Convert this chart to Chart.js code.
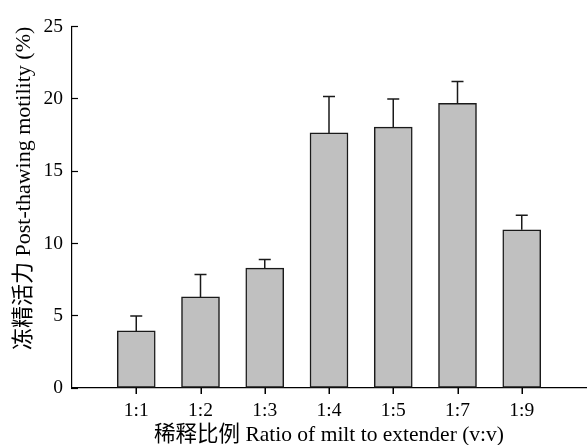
<!DOCTYPE html>
<html><head><meta charset="utf-8">
<script src="https://cdn.jsdelivr.net/npm/chart.js@4"></script>
<style>html,body{margin:0;padding:0;background:#fff}#wrap{width:587px;height:445px}</style>
</head><body><div id="wrap"><canvas id="c" width="587" height="445"></canvas></div>
<script>
const categories = ['1:1', '1:2', '1:3', '1:4', '1:5', '1:7', '1:9'];
const motility = [3.95, 6.3, 8.3, 17.65, 18.05, 19.7, 10.95];
const sd = [1.03, 1.55, 0.6, 2.52, 1.95, 1.5, 1.0];
const yTicks = [0, 5, 10, 15, 20, 25];

const FONT = "'Liberation Serif', 'Times New Roman', 'Noto Sans CJK SC', serif";
const labels = [''].concat(categories, ['']);
const values = [null].concat(motility, [null]);
const errs = [null].concat(sd, [null]);

const marks = {
  id: 'marks',
  afterDraw(chart) {
    const ctx = chart.ctx, meta = chart.getDatasetMeta(0), y = chart.scales.y, x = chart.scales.x;
    ctx.save();
    // x-axis tick marks at each category
    ctx.fillStyle = '#000';
    const y0 = Math.round(y.getPixelForValue(0));
    categories.forEach((c, k) => {
      const px = Math.round(x.getPixelForValue(k + 1));
      ctx.fillRect(px - 0.5, y0, 1.5, 6);
    });
    // error bars (upper only)
    ctx.strokeStyle = '#1a1a1a';
    ctx.lineWidth = 1.5;
    meta.data.forEach((bar, i) => {
      if (values[i] == null) return;
      const top = y.getPixelForValue(values[i] + errs[i]);
      const base = y.getPixelForValue(values[i]);
      ctx.beginPath();
      ctx.moveTo(bar.x, base); ctx.lineTo(bar.x, top);
      ctx.moveTo(bar.x - 6, top); ctx.lineTo(bar.x + 6, top);
      ctx.stroke();
    });
    ctx.restore();
  }
};

new Chart(document.getElementById('c'), {
  type: 'bar',
  data: { labels: labels, datasets: [{ data: values, backgroundColor: '#c0c0c0', borderColor: '#1a1a1a', borderWidth: 1.5, borderSkipped: false, barThickness: 38 }] },
  options: {
    responsive: false, animation: false, devicePixelRatio: 1,
    layout: { padding: { top: 20, right: 1, left: 0, bottom: 0 } },
    plugins: { legend: { display: false }, tooltip: { enabled: false } },
    scales: {
      x: {
        offset: false,
        grid: { offset: false, drawOnChartArea: false, drawTicks: false },
        border: { color: '#000', width: 1.2 },
        ticks: { color: '#000', font: { family: FONT, size: 19.5 }, padding: 11, maxRotation: 0, autoSkip: false },
        title: { display: true, text: '稀释比例 Ratio of milt to extender (v:v)', color: '#000', font: { family: FONT, size: 21.5 }, padding: { top: 0, bottom: -3 } },
        afterFit: (s) => { s.height = 57; s.paddingRight = 0; s.paddingLeft = 0; }
      },
      y: {
        min: 0, max: 25,
        afterBuildTicks: (s) => { s.ticks = yTicks.map(v => ({ value: v })); },
        grid: { drawOnChartArea: false, tickLength: -6, tickWidth: 1.2, tickColor: '#000' },
        border: { color: '#000', width: 1.2 },
        ticks: { color: '#000', font: { family: FONT, size: 19.5 }, padding: 15 },
        title: { display: true, align: 'end', text: '冻精活力 Post-thawing motility (%)', color: '#000', font: { family: FONT, size: 22 }, padding: { top: 11, bottom: 0 } },
        afterFit: (s) => { s.width = 72; }
      }
    }
  },
  plugins: [marks]
});
</script></body></html>
